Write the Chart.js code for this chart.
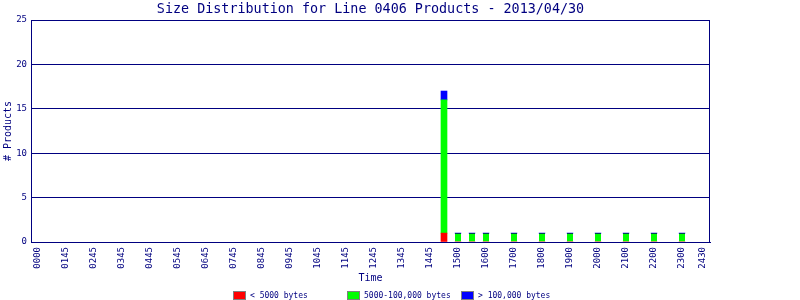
<!DOCTYPE html>
<html>
<head>
<meta charset="utf-8">
<script src="https://cdn.jsdelivr.net/npm/chart.js@4/dist/chart.umd.min.js"></script>
<style>
    html, body { margin: 0; padding: 0; background: #fff; }
    #wrap { width: 800px; height: 300px; }
</style>
</head>
<body>
<div id="wrap"><canvas id="sizeChart"></canvas></div>
<script>
// DATA
const chartTitle = "Size Distribution for Line 0406 Products - 2013/04/30";

// bar positions, in hours of the day
const barHours = [14.5, 15, 15.5, 16, 17, 18, 19, 20, 21, 22, 23];

const smallCounts  = [1, 0, 0, 0, 0, 0, 0, 0, 0, 0, 0];
const mediumCounts = [15, 1, 1, 1, 1, 1, 1, 1, 1, 1, 1];
const largeCounts  = [1, 0, 0, 0, 0, 0, 0, 0, 0, 0, 0];

const seriesNames = ["< 5000 bytes", "5000-100,000 bytes", "> 100,000 bytes"];

// x tick positions (hours) and their printed labels
const tickHours = [0, 1, 2, 3, 4, 5, 6, 7, 8, 9, 10, 11, 12, 13, 14,
                   15, 16, 17, 18, 19, 20, 21, 22, 23, 23.75];
const tickLabels = ["0000", "0145", "0245", "0345", "0445", "0545", "0645",
                    "0745", "0845", "0945", "1045", "1145", "1245", "1345",
                    "1445", "1500", "1600", "1700", "1800", "1900", "2000",
                    "2100", "2200", "2300", "2430"];

const yTicks = [0, 5, 10, 15, 20, 25];

/* -------------------------
   STYLE
--------------------------*/

const NAVY = "#000080";
const MONO = "'DejaVu Sans Mono', 'Liberation Mono', monospace";

function points(values) {
    return barHours.map((h, i) => ({ x: h, y: values[i] }));
}

/* -------------------------
   PLUGINS
--------------------------*/

// title centred over the plot, right edge of the plot box
const frame = {
    id: "frame",
    afterDatasetsDraw(chart) {
        const a = chart.chartArea;
        const ctx = chart.ctx;
        const x = Math.round(a.right) - 0.5;
        ctx.save();
        ctx.strokeStyle = NAVY;
        ctx.lineWidth = 1;
        ctx.beginPath();
        ctx.moveTo(x, a.top);
        ctx.lineTo(x, a.bottom);
        ctx.stroke();

        ctx.fillStyle = NAVY;
        ctx.font = "13.4px " + MONO;
        ctx.textAlign = "center";
        ctx.textBaseline = "alphabetic";
        ctx.fillText(chartTitle, (a.left + a.right) / 2, 13);
        ctx.restore();
    }
};

// fixed-column legend at the bottom
const bottomLegend = {
    id: "bottomLegend",
    afterDraw(chart) {
        const ctx = chart.ctx;
        ctx.save();
        ctx.font = "8px " + MONO;
        ctx.textBaseline = "middle";
        chart.data.datasets.forEach((ds, i) => {
            const x = 233 + i * 114;
            const y = 291;
            ctx.fillStyle = ds.backgroundColor;
            ctx.fillRect(x, y, 12, 8);
            ctx.strokeStyle = "#808080";
            ctx.lineWidth = 1;
            ctx.strokeRect(x + 0.5, y + 0.5, 12, 8);
            ctx.fillStyle = NAVY;
            ctx.fillText(ds.label, x + 17, y + 4.5);
        });
        ctx.restore();
    }
};

/* -------------------------
   CHART
--------------------------*/

new Chart(document.getElementById("sizeChart"), {
    type: "bar",
    data: {
        datasets: [
            {
                label: seriesNames[0],
                data: points(smallCounts),
                backgroundColor: "#ff0000",
                borderWidth: 0
            },
            {
                label: seriesNames[1],
                data: points(mediumCounts),
                backgroundColor: "#00ff00",
                borderColor: NAVY,
                borderWidth: c => largeCounts[c.dataIndex] ? 0 : { top: 1, left: 0, right: 0, bottom: 0 }
            },
            {
                label: seriesNames[2],
                data: points(largeCounts),
                backgroundColor: "#0000ff",
                borderWidth: 0
            }
        ]
    },
    options: {
        responsive: true,
        maintainAspectRatio: false,
        animation: false,
        layout: {
            padding: { left: 0, right: 90, top: 20, bottom: 16 }
        },
        datasets: {
            bar: { barThickness: 6 }
        },
        plugins: {
            legend: { display: false },
            tooltip: { enabled: false },
            title: { display: false }
        },
        scales: {
            x: {
                type: "linear",
                stacked: true,
                min: -0.25,
                max: 24,
                offset: false,
                afterBuildTicks: scale => {
                    scale.ticks = tickHours.map(v => ({ value: v }));
                },
                afterFit: scale => { scale.height = 42; },
                ticks: {
                    autoSkip: false,
                    minRotation: 90,
                    maxRotation: 90,
                    padding: 5,
                    color: NAVY,
                    font: { family: MONO, size: 9 },
                    callback: (v, i) => tickLabels[i]
                },
                grid: { display: false, drawTicks: false },
                border: { display: true, color: NAVY, width: 1 },
                title: {
                    display: true,
                    text: "Time",
                    color: NAVY,
                    font: { family: MONO, size: 10 },
                    padding: { top: 0, bottom: 0 }
                }
            },
            y: {
                stacked: true,
                min: 0,
                max: 25,
                afterBuildTicks: scale => {
                    scale.ticks = yTicks.map(v => ({ value: v }));
                },
                afterFit: scale => { scale.width = 31; },
                ticks: {
                    padding: 4,
                    color: NAVY,
                    font: { family: MONO, size: 9 }
                },
                grid: { color: NAVY, lineWidth: 1, drawTicks: false },
                border: { display: true, color: NAVY, width: 1 },
                title: {
                    display: true,
                    text: "# Products",
                    color: NAVY,
                    font: { family: MONO, size: 10 },
                    padding: { top: 2, bottom: 0 }
                }
            }
        }
    },
    plugins: [frame, bottomLegend]
});
</script>
</body>
</html>
